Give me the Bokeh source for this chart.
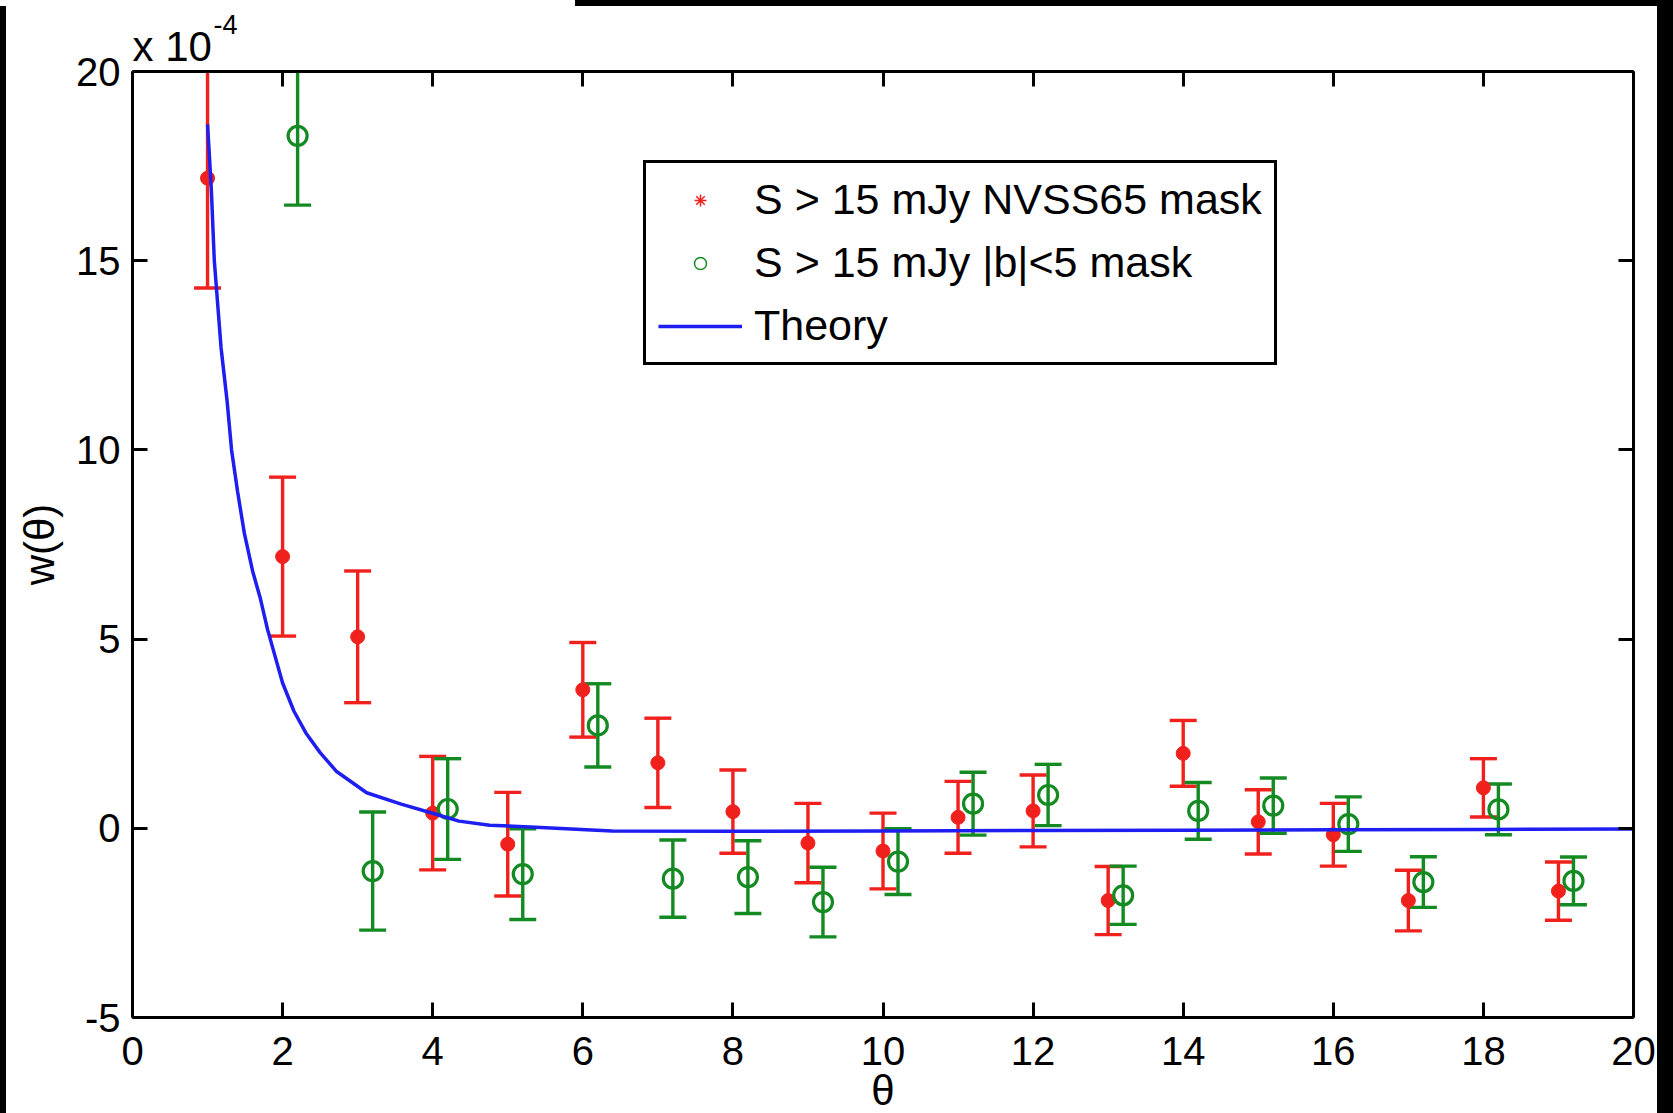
from bokeh.plotting import figure
from bokeh.models import (ColumnDataSource, Range1d, FixedTicker, LinearAxis, Legend,
                          LegendItem, Title, Div)
from bokeh.layouts import column, row
from bokeh.embed import file_html
from bokeh.resources import INLINE

# ---------------- data (w in units of 1e-4) ----------------
theta_nvss = [1, 2, 3, 4, 5, 6, 7, 8, 9, 10, 11, 12, 13, 14, 15, 16, 17, 18, 19]
w_nvss = [17.18, 7.18, 5.06, 0.40, -0.42, 3.66, 1.73, 0.44, -0.39, -0.60,
          0.29, 0.46, -1.91, 1.98, 0.17, -0.17, -1.91, 1.07, -1.66]
err_nvss = [2.90, 2.10, 1.74, 1.50, 1.37, 1.25, 1.18, 1.10, 1.05, 1.00,
            0.95, 0.95, 0.90, 0.87, 0.85, 0.83, 0.80, 0.77, 0.77]

theta_b5 = [2.2, 3.2, 4.2, 5.2, 6.2, 7.2, 8.2, 9.2, 10.2, 11.2, 12.2, 13.2,
            14.2, 15.2, 16.2, 17.2, 18.2, 19.2]
w_b5 = [18.30, -1.13, 0.51, -1.21, 2.72, -1.33, -1.29, -1.95, -0.88, 0.65,
        0.88, -1.77, 0.46, 0.60, 0.11, -1.42, 0.50, -1.39]
err_b5 = [1.83, 1.56, 1.33, 1.20, 1.10, 1.02, 0.96, 0.92, 0.87, 0.83,
          0.81, 0.77, 0.75, 0.73, 0.72, 0.67, 0.67, 0.63]

theta_theory = [1.0, 1.05, 1.09, 1.18, 1.26, 1.32, 1.40, 1.49, 1.60, 1.70, 1.80,
                2.0, 2.15, 2.31, 2.50, 2.72, 3.12, 3.58, 4.01, 4.35, 4.76, 5.37,
                6.39, 8.0, 10.0, 12.0, 14.0, 16.0, 18.0, 20.0]
w_theory = [18.6, 16.9, 15.0, 12.7, 11.3, 10.0, 8.9, 7.8, 6.8, 6.1, 5.25,
            3.84, 3.1, 2.52, 2.0, 1.50, 0.94, 0.64, 0.39, 0.19, 0.08, 0.03,
            -0.07, -0.08, -0.07, -0.06, -0.05, -0.04, -0.03, -0.02]

x_ticks = [0, 2, 4, 6, 8, 10, 12, 14, 16, 18, 20]
x_tick_labels = ["0", "2", "4", "6", "8", "10", "12", "14", "16", "18", "20"]
y_ticks = [-5, 0, 5, 10, 15, 20]
y_tick_labels = ["-5", "0", "5", "10", "15", "20"]

labels = ["S > 15 mJy NVSS65 mask", "S > 15 mJy |b|<5 mask", "Theory"]
x_title = "θ"
y_title = "w(θ)"
scale_text = "x 10"
scale_exp = "-4"

# ---------------- styling ----------------
RED = "#f0201c"
GREEN = "#148a22"
BLUE = "#1e1ef0"
FONT = "Liberation Sans"

p = figure(width=1651, height=1107, output_backend="svg", toolbar_location=None, title=None,
           x_range=Range1d(x_ticks[0], x_ticks[-1]), y_range=Range1d(y_ticks[0], y_ticks[-1]),
           min_border_left=126, min_border_right=24, min_border_top=65, min_border_bottom=96,
           x_axis_type=None, y_axis_type=None)
p.outline_line_color = None
p.background_fill_color = "white"
p.border_fill_color = "white"

xt = FixedTicker(ticks=x_ticks)
yt = FixedTicker(ticks=y_ticks)


def style_axis(ax, show_labels):
    ax.axis_line_width = 3
    ax.axis_line_color = "black"
    ax.major_tick_in = 15
    ax.major_tick_out = 0
    ax.major_tick_line_width = 3
    ax.minor_tick_line_color = None
    ax.major_label_text_font = FONT
    ax.major_label_text_color = "black"
    ax.axis_label_text_font = FONT
    ax.axis_label_text_font_size = "42px"
    ax.axis_label_text_font_style = "normal"
    ax.axis_label_text_color = "black"
    if show_labels:
        ax.major_label_text_font_size = "40px"
    else:
        ax.major_label_text_font_size = "0px"
        ax.major_label_standoff = 0


xb = LinearAxis(ticker=xt, major_label_overrides={t: s for t, s in zip(x_ticks, x_tick_labels)})
style_axis(xb, True)
xb.major_label_standoff = 19
p.add_layout(xb, "below")

# x-axis title below the tick labels
tx = Title(text=x_title, align="center", vertical_align="middle", standoff=-4,
           text_font=FONT, text_font_size="42px", text_font_style="normal", text_color="black")
p.add_layout(tx, "below")

yl = LinearAxis(ticker=yt, major_label_overrides={t: s for t, s in zip(y_ticks, y_tick_labels)})
style_axis(yl, True)
yl.major_label_standoff = 12
yl.axis_label = y_title
yl.axis_label_standoff = 10
p.add_layout(yl, "left")

yr = LinearAxis(ticker=yt)
style_axis(yr, False)
p.add_layout(yr, "right")

xa = LinearAxis(ticker=xt)
style_axis(xa, False)
p.add_layout(xa, "above")

# multiplier "x 10^-4" above the top-left corner
t1 = Title(text=scale_text, align="left", offset=0, standoff=4,
           text_font=FONT, text_font_size="42px", text_font_style="normal", text_color="black")
p.add_layout(t1, "above")
t2 = Title(text=scale_exp, align="left", offset=81, standoff=-31,
           text_font=FONT, text_font_size="27px", text_font_style="normal", text_color="black")
p.add_layout(t2, "above")

p.xgrid.ticker = xt
p.ygrid.ticker = yt
for g in (p.xgrid, p.ygrid):
    g.grid_line_color = "#c8c8c8"
    g.grid_line_width = 1.5

# ---------------- error bars + points ----------------
src_r = ColumnDataSource(dict(x=theta_nvss, y=w_nvss,
                              lo=[w - e for w, e in zip(w_nvss, err_nvss)],
                              hi=[w + e for w, e in zip(w_nvss, err_nvss)]))
src_g = ColumnDataSource(dict(x=theta_b5, y=w_b5,
                              lo=[w - e for w, e in zip(w_b5, err_b5)],
                              hi=[w + e for w, e in zip(w_b5, err_b5)]))

for src, col in ((src_r, RED), (src_g, GREEN)):
    p.segment(x0="x", y0="lo", x1="x", y1="hi", source=src, line_color=col, line_width=3.4)
    p.scatter(x="x", y="lo", source=src, marker="dash", size=27, line_color=col, line_width=3.4)
    p.scatter(x="x", y="hi", source=src, marker="dash", size=27, line_color=col, line_width=3.4)

p.scatter(x="x", y="y", source=src_r, marker="circle", size=14, fill_color=RED, line_color=RED)
p.scatter(x="x", y="y", source=src_g, marker="circle", size=19, fill_color=None,
          line_color=GREEN, line_width=3.2)

theory = p.line(theta_theory, w_theory, line_color=BLUE, line_width=3.5)

# legend proxies: zero-size on the plot, small symbols in the legend box
leg_r = p.scatter(x="x", y="y", source=src_r, marker="asterisk", size=0,
                  line_color=RED, line_width=1.5)
leg_g = p.scatter(x="x", y="y", source=src_g, marker="circle", size=0, fill_color=None,
                  line_color=GREEN, line_width=1.5)

legend = Legend(items=[LegendItem(label=labels[0], renderers=[leg_r]),
                       LegendItem(label=labels[1], renderers=[leg_g]),
                       LegendItem(label=labels[2], renderers=[theory])],
                location=(511, 652), margin=0, padding=12, spacing=14,
                glyph_width=84, glyph_height=30, label_standoff=12,
                label_text_font=FONT, label_text_font_size="43px", label_text_color="black",
                border_line_color="black", border_line_width=3, border_line_alpha=1.0,
                background_fill_color="white", background_fill_alpha=1.0)
p.add_layout(legend, "center")

# ---------------- page with the black frame strips ----------------
black = {"background-color": "black"}
white = {"background-color": "white"}
top = row(Div(width=575, height=6, styles=white, margin=0),
          Div(width=1098, height=6, styles=black, margin=0), spacing=0, margin=0)
mid = row(Div(width=6, height=1107, styles=black, margin=0), p,
          Div(width=16, height=1107, styles=black, margin=0), spacing=0, margin=0)
page = column(top, mid, spacing=0, margin=0)

open("out.html", "w").write(file_html(page, INLINE))
